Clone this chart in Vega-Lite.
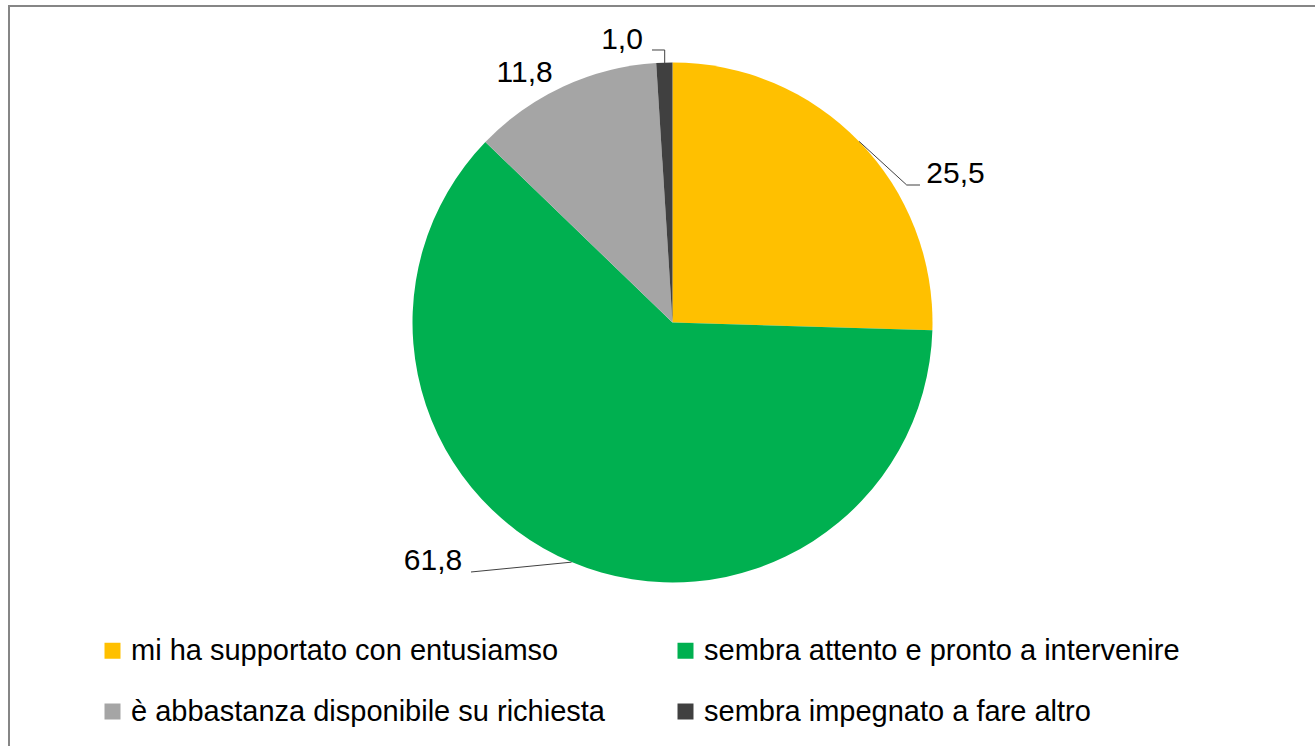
{
  "$schema": "https://vega.github.io/schema/vega-lite/v6.json",
  "width": 1320,
  "height": 760,
  "autosize": "none",
  "padding": {"left": 9, "top": 6, "right": 0, "bottom": 0},
  "background": "white",
  "config": {
    "view": {"stroke": "#868686", "strokeWidth": 2},
    "font": "Liberation Sans"
  },
  "datasets": {
    "slices": [
      {"cat": "mi ha supportato con entusiamso", "value": 25.5, "ord": 1},
      {"cat": "sembra attento e pronto a intervenire", "value": 61.8, "ord": 2},
      {"cat": "è abbastanza disponibile su richiesta", "value": 11.8, "ord": 3},
      {"cat": "sembra impegnato a fare altro", "value": 1.0, "ord": 4}
    ],
    "leaders": [
      {"lid": "a", "seq": 1, "lx": 0.7177, "ly": 0.6965},
      {"lid": "a", "seq": 2, "lx": 0.9008, "ly": 0.5288},
      {"lid": "a", "seq": 3, "lx": 0.9519, "ly": 0.5288},
      {"lid": "b", "seq": 1, "lx": -0.3881, "ly": -0.9217},
      {"lid": "b", "seq": 2, "lx": -0.775, "ly": -0.9596},
      {"lid": "c", "seq": 1, "lx": -0.0788, "ly": 1.0481},
      {"lid": "c", "seq": 2, "lx": -0.0300, "ly": 1.0481},
      {"lid": "c", "seq": 3, "lx": -0.0300, "ly": 0.9981}
    ],
    "labels": [
      {"label": "25,5", "tx": 1.0885, "ty": 0.572},
      {"label": "61,8", "tx": -0.9212, "ty": -0.9165},
      {"label": "11,8", "tx": -0.5685, "ty": 0.9605},
      {"label": "1,0", "tx": -0.1942, "ty": 1.0874}
    ]
  },
  "layer": [
    {
      "data": {"name": "slices"},
      "mark": {"type": "arc", "outerRadius": 260},
      "encoding": {
        "theta": {"field": "value", "type": "quantitative", "stack": true},
        "order": {"field": "ord", "type": "quantitative"},
        "x": {"datum": 0, "type": "quantitative", "scale": {"domain": [-2.551923, 2.525], "nice": false, "zero": false}, "axis": null},
        "y": {"datum": 0, "type": "quantitative", "scale": {"domain": [-1.705769, 1.217308], "nice": false, "zero": false}, "axis": null},
        "color": {
          "field": "cat",
          "type": "nominal",
          "scale": {
            "domain": ["mi ha supportato con entusiamso", "sembra attento e pronto a intervenire", "è abbastanza disponibile su richiesta", "sembra impegnato a fare altro"],
            "range": ["#FFC000", "#00B050", "#A5A5A5", "#404040"]
          },
          "legend": {
            "title": null,
            "orient": "none",
            "legendX": 89,
            "legendY": 630,
            "columns": 2,
            "direction": "horizontal",
            "symbolType": "square",
            "symbolSize": 256,
            "symbolStrokeWidth": 0,
            "labelFontSize": 29,
            "labelFont": "Liberation Sans",
            "labelColor": "#000000",
            "labelOffset": 4,
            "labelLimit": 0,
            "rowPadding": 31,
            "columnPadding": 66,
            "padding": 0
          }
        }
      }
    },
    {
      "data": {"name": "leaders"},
      "mark": {"type": "line", "color": "#404040", "strokeWidth": 1},
      "encoding": {
        "x": {"field": "lx", "type": "quantitative"},
        "y": {"field": "ly", "type": "quantitative"},
        "detail": {"field": "lid"},
        "order": {"field": "seq", "type": "quantitative"}
      }
    },
    {
      "data": {"name": "labels"},
      "mark": {"type": "text", "fontSize": 30, "font": "Liberation Sans", "color": "#000000", "align": "center", "baseline": "middle"},
      "encoding": {
        "x": {"field": "tx", "type": "quantitative"},
        "y": {"field": "ty", "type": "quantitative"},
        "text": {"field": "label"}
      }
    }
  ]
}
